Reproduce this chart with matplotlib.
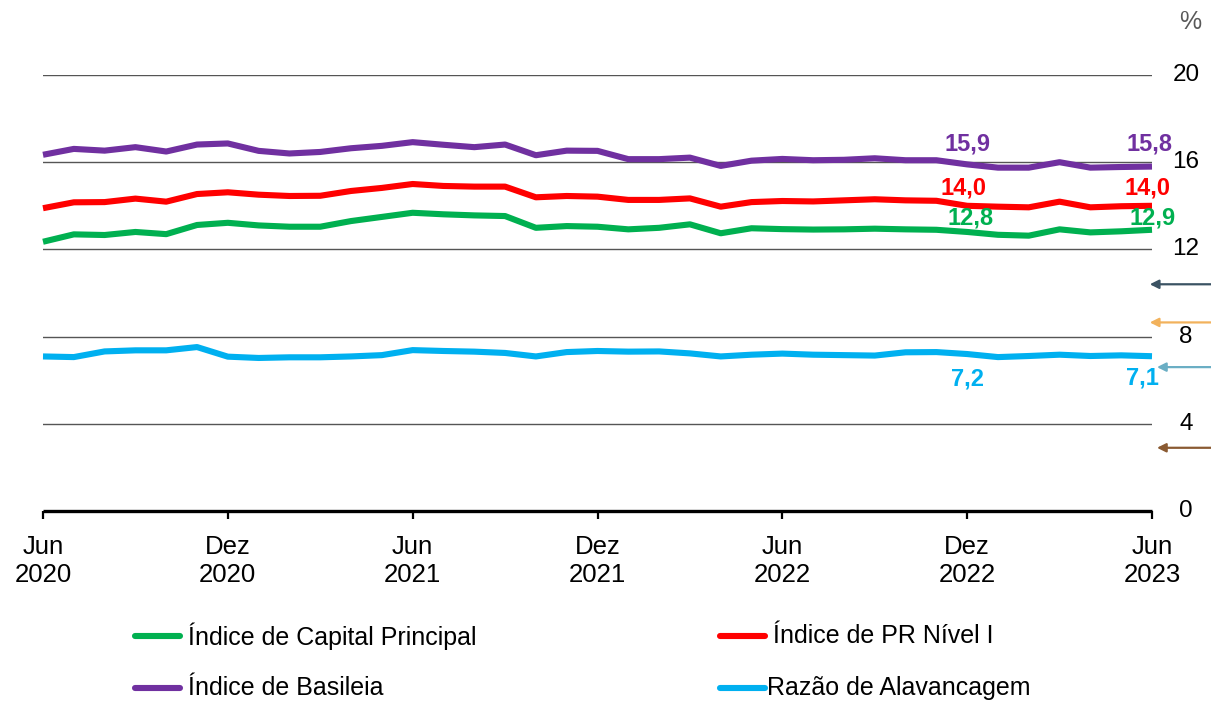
import matplotlib
matplotlib.use("Agg")
import matplotlib.pyplot as plt
from matplotlib.lines import Line2D

plt.rcParams["font.family"] = ["Liberation Sans", "DejaVu Sans"]

# Monthly observations, Jun 2020 .. Jun 2023
months = list(range(37))
tick_pos = [0, 6, 12, 18, 24, 30, 36]
tick_labels = ["Jun\n2020", "Dez\n2020", "Jun\n2021", "Dez\n2021",
               "Jun\n2022", "Dez\n2022", "Jun\n2023"]

capital_principal = [12.35, 12.69, 12.66, 12.80, 12.70, 13.12, 13.22, 13.10, 13.04, 13.04,
                     13.30, 13.49, 13.68, 13.61, 13.56, 13.53, 12.99, 13.07, 13.04, 12.92,
                     12.99, 13.15, 12.74, 12.97, 12.93, 12.91, 12.92, 12.95, 12.92, 12.90,
                     12.80, 12.67, 12.63, 12.92, 12.78, 12.83, 12.90]
pr_nivel_1 = [13.89, 14.16, 14.17, 14.33, 14.19, 14.54, 14.62, 14.51, 14.45, 14.46,
              14.68, 14.82, 15.00, 14.91, 14.88, 14.88, 14.39, 14.45, 14.42, 14.27,
              14.27, 14.34, 13.96, 14.17, 14.22, 14.20, 14.25, 14.30, 14.25, 14.23,
              14.00, 13.96, 13.93, 14.19, 13.93, 13.98, 14.00]
basileia = [16.34, 16.61, 16.53, 16.69, 16.49, 16.81, 16.86, 16.52, 16.40, 16.47,
            16.64, 16.75, 16.92, 16.80, 16.69, 16.81, 16.32, 16.53, 16.52, 16.14,
            16.14, 16.21, 15.83, 16.07, 16.15, 16.09, 16.11, 16.18, 16.09, 16.09,
            15.90, 15.75, 15.75, 16.00, 15.75, 15.78, 15.80]
alavancagem = [7.09, 7.06, 7.32, 7.37, 7.37, 7.52, 7.08, 7.02, 7.05, 7.05,
               7.09, 7.15, 7.38, 7.34, 7.31, 7.25, 7.09, 7.29, 7.34, 7.31,
               7.32, 7.23, 7.09, 7.17, 7.22, 7.17, 7.15, 7.13, 7.28, 7.29,
               7.20, 7.06, 7.11, 7.17, 7.11, 7.14, 7.10]

series_names = ["Índice de Capital Principal", "Índice de PR Nível I",
                "Índice de Basileia", "Razão de Alavancagem"]
series_values = [capital_principal, pr_nivel_1, basileia, alavancagem]
series_colors = ["#00B050", "#FF0000", "#7030A0", "#00B0F0"]

y_ticks = [0, 4, 8, 12, 16, 20]

# Reference levels marked by arrows on the right edge
arrow_levels = [10.4, 8.65, 6.6, 2.9]
arrow_colors = ["#3B5363", "#F2B25C", "#6AAEC4", "#8A5A32"]
arrow_heads = [0.998, 0.998, 1.0045, 1.0045]

# Labelled points: (series index, month index, pixel offset x, pixel offset y)
labelled = [(2, 30, 0, 20), (2, 36, -2, 23),
            (1, 30, -4, 18), (1, 36, -4, 18),
            (0, 30, 3, 14), (0, 36, 1, 12),
            (3, 30, 0, -25), (3, 36, -10, -22)]

W, H = 1211, 701
fig = plt.figure(figsize=(W / 100, H / 100), dpi=100)
x0, x1 = 43, 1152
y0, y20 = 511, 75
ax = fig.add_axes([x0 / W, (H - y0) / H, (x1 - x0) / W, (y0 - y20) / H])
ax.set_xlim(0, 36)
ax.set_ylim(0, 20)

for s in ["top", "right", "left"]:
    ax.spines[s].set_visible(False)
ax.spines["bottom"].set_linewidth(2.4)
ax.spines["bottom"].set_color("black")
ax.spines["bottom"].set_capstyle("butt")

for yv in y_ticks[1:]:
    ax.axhline(yv, color="#555555", lw=1.0, zorder=1)

ax.set_yticks([])
ax.set_xticks(tick_pos)
ax.set_xticklabels(tick_labels, fontsize=18.5, linespacing=1.17)
ax.tick_params(axis="x", direction="out", length=6, width=1.6, pad=11.5, colors="black")

ytr = ax.get_yaxis_transform()
for yv in y_ticks:
    ax.text(1.0307, yv, str(yv), transform=ytr, ha="center", va="center",
            fontsize=17.5, color="black")
fig.text(1190 / W, 1 - 22 / H, "%", ha="center", va="center", fontsize=18, color="#595959")

for vals, col in zip(series_values, series_colors):
    ax.plot(months, vals, color=col, lw=4.4, solid_joinstyle="round",
            solid_capstyle="butt", zorder=3, clip_on=False)

for si, mi, dx, dy in labelled:
    v = series_values[si][mi]
    ax.annotate(f"{v:.1f}".replace(".", ","), xy=(months[mi], v),
                xytext=(dx * 0.72, dy * 0.72), textcoords="offset points",
                ha="center", va="center", fontsize=17, fontweight="bold",
                color=series_colors[si], annotation_clip=False)

for lvl, col, hx in zip(arrow_levels, arrow_colors, arrow_heads):
    ax.annotate("", xy=(hx, lvl), xycoords=ytr, xytext=(1.06, lvl), textcoords=ytr,
                arrowprops=dict(arrowstyle="-|>", color=col, lw=1.6,
                                mutation_scale=13, shrinkA=0, shrinkB=0),
                annotation_clip=False)

# Legend drawn in figure pixels
legend_slots = [(135, 636, 188), (720, 636, 773), (135, 688, 188), (720, 688, 767)]
for (hx, hy, tx), name, col in zip(legend_slots, series_names, series_colors):
    fig.add_artist(Line2D([hx / W, (hx + 45) / W], [1 - hy / H, 1 - hy / H],
                          color=col, lw=4.4, solid_capstyle="round"))
    fig.text(tx / W, 1 - hy / H, name, ha="left", va="center", fontsize=18, color="black")

fig.savefig("out.png", dpi=100, facecolor="white")
